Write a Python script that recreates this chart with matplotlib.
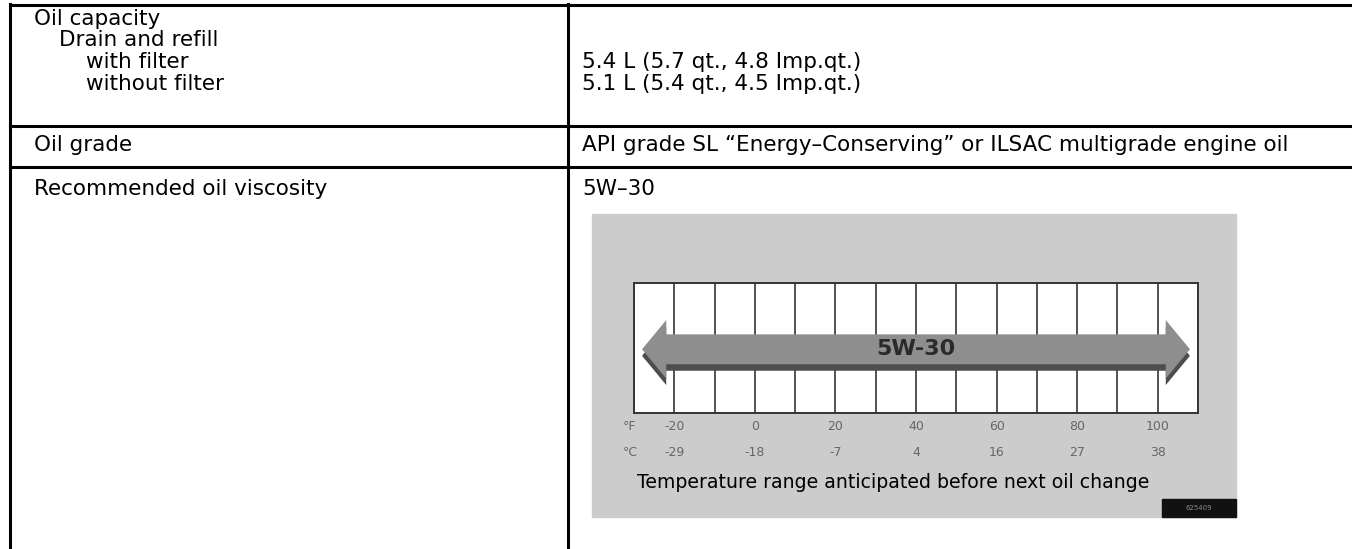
import matplotlib.pyplot as plt
from matplotlib.patches import Rectangle, FancyArrow

# contenu du tableau
rubriques = ["Oil capacity", "Oil grade", "Recommended oil viscosity"]
capacite_lignes = ["Drain and refill", "with filter", "without filter"]
capacite_valeurs = ["5.4 L (5.7 qt., 4.8 Imp.qt.)", "5.1 L (5.4 qt., 4.5 Imp.qt.)"]
grade_huile = "API grade SL \u201cEnergy\u2013Conserving\u201d or ILSAC multigrade engine oil"
viscosite = "5W\u201330"

# graphique des temperatures
temp_f = [-20, 0, 20, 40, 60, 80, 100]
temp_c = [-29, -18, -7, 4, 16, 27, 38]
grille_f = (-30, 110)  # bornes de la grille en degres F
plage_5w30 = (-28, 108)  # etendue de la fleche
nom_grade = "5W-30"
legende = "Temperature range anticipated before next oil change"

police = "DejaVu Sans"
taille = 15.5

fig = plt.figure(figsize=(13.52, 5.49), dpi=100)
ax = fig.add_axes([0, 0, 1, 1])
ax.set_xlim(0, 1352)
ax.set_ylim(549, 0)
ax.axis("off")

# traits du tableau (en pixels)
lw = 2.2
ax.plot([10, 1352], [5, 5], color="black", lw=lw, solid_capstyle="butt")
ax.plot([10, 1352], [126, 126], color="black", lw=lw)
ax.plot([10, 1352], [167, 167], color="black", lw=lw)
ax.plot([10, 10], [4, 549], color="black", lw=lw)
ax.plot([568, 568], [4, 549], color="black", lw=lw)

txt = dict(family=police, fontsize=taille, va="center", color="black")
ax.text(34, 19, rubriques[0], **txt)
retraits = [59, 86, 86]
for i, s in enumerate(capacite_lignes):
    ax.text(retraits[i], 40.5 + 21.5 * i, s, **txt)
for i, s in enumerate(capacite_valeurs):
    ax.text(582, 62 + 21.5 * i, s, **txt)
ax.text(34, 145, rubriques[1], **txt)
ax.text(582, 145, grade_huile, **txt)
ax.text(34, 189, rubriques[2], **txt)
ax.text(582, 189, viscosite, **txt)

# panneau gris de l'illustration
ax.add_patch(Rectangle((592, 214), 644, 303, color="#cccccc", zorder=1))
ax.add_patch(Rectangle((1162, 499), 74, 18, color="#111111", zorder=2))
ax.text(1199, 508, "625409", fontsize=5, color="#888888", ha="center", va="center",
        family=police, zorder=3)
ax.text(637, 482, legende, family=police, fontsize=13.6, va="center", color="black")

# grille des temperatures
g = fig.add_axes([634 / 1352, 1 - 413 / 549, 564 / 1352, 130 / 549])
g.set_xlim(*grille_f)
g.set_ylim(0, 1)
g.set_facecolor("white")
g.set_xticks(range(grille_f[0] + 10, grille_f[1], 10))
g.set_yticks([])
g.tick_params(length=0, labelbottom=False)
g.grid(axis="x", color="#333333", lw=1.2)
for sp in g.spines.values():
    sp.set_color("#333333")
    sp.set_linewidth(1.4)

# fleche double 5W-30 (ombre puis fleche)
milieu = (plage_5w30[0] + plage_5w30[1]) / 2
yc = 0.49
for dy, coul in [(-0.05, "#4d4d4d"), (0, "#8e8e8e")]:
    for bout in plage_5w30:
        g.add_patch(FancyArrow(milieu, yc + dy, bout - milieu, 0, width=0.23,
                               head_width=0.45, head_length=6,
                               length_includes_head=True, color=coul, lw=0, zorder=3))
g.text(milieu, yc, nom_grade, family="DejaVu Sans", weight="bold", fontsize=16,
       color="#2a2a2a", ha="center", va="center", zorder=4)

# etiquettes degres
lab = dict(fontsize=9, color="#666666", ha="center", va="center", family=police,
           clip_on=False)
g.text(grille_f[0] - 1, -0.1, "\u00b0F", **lab)
g.text(grille_f[0] - 1, -0.3, "\u00b0C", **lab)
for f, c in zip(temp_f, temp_c):
    g.text(f, -0.1, str(f), **lab)
    g.text(f, -0.3, str(c), **lab)

fig.savefig("out.png", dpi=100)
